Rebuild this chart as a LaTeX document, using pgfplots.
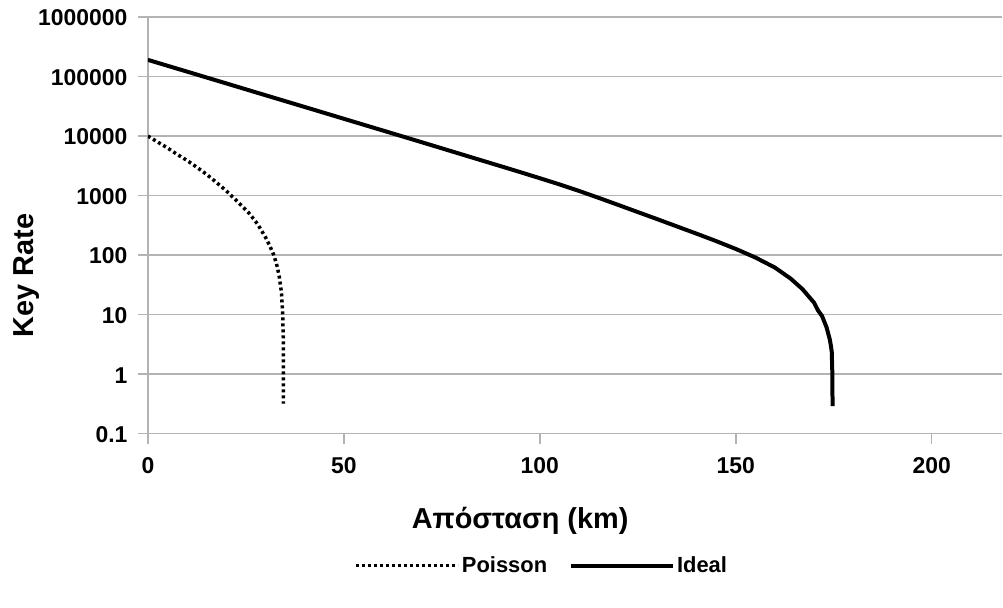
\documentclass[border=0pt]{standalone}
\usepackage{pgfplots}
\pgfplotsset{compat=1.18}
\usepackage{fontspec}
\setmainfont{Liberation Sans}
\definecolor{gridgray}{RGB}{179,179,179}
\begin{document}
\begin{tikzpicture}
\path (-148bp,-174bp) rectangle (855bp,434bp);
\begin{axis}[
  at={(0,0)}, anchor=south west,
  width=855bp, height=417bp, scale only axis,
  xmin=0, xmax=218,
  ymode=log, ymin=0.1, ymax=1000000,
  axis x line=bottom, axis y line=left,
  axis line style={-, gridgray, line width=1.5bp},
  tick align=outside, major tick length=10bp,
  tick style={gridgray, line width=1.5bp},
  yminorticks=false, xminorticks=false,
  ymajorgrids, grid style={gridgray, line width=1.5bp},
  xtick={0,50,100,150,200}, xticklabels={0,50,100,150,200},
  ytick={0.1,1,10,100,1000,10000,100000,1000000},
  yticklabels={0.1,1,10,100,1000,10000,100000,1000000},
  ticklabel style={font=\fontsize{23}{27}\selectfont\bfseries, text=black},
  yticklabel style={xshift=-7bp, yshift=-1bp},
  xticklabel style={yshift=-10bp},
  xlabel={Απόσταση (km)},
  ylabel={Key Rate},
  label style={font=\fontsize{29}{34}\selectfont\bfseries},
  xlabel style={at={(0.4357,-0.2086)}, anchor=center},
  ylabel style={at={(-0.1415,0.380)}, anchor=center, rotate=0},
  legend style={at={(0.461,-0.3165)}, anchor=center, draw=none, fill=none,
    legend columns=2, font=\fontsize{22}{26}\selectfont\bfseries,
    /tikz/every even column/.append style={column sep=20bp}},
  legend image code/.code={\draw[#1] (0bp,0bp) -- (102bp,0bp);},
]
\addplot[black, line width=3.5bp, dash pattern=on 3bp off 3bp] coordinates {
(0,10000) (2.5,7940) (5,6310) (7.5,4900) (10,3890) (12.5,2985) (15,2265)
(17.5,1660) (20,1202) (23,776) (26,490) (28,331) (30,200) (31,148) (32,105)
(32.8,72.4) (33.5,44.7) (34.1,22.9) (34.4,10) (34.55,3.98) (34.6,1.58) (34.6,0.32)
};
\addlegendentry{Poisson}
\addplot[black, line width=4bp] coordinates {
(0,190500) (10,120800) (20,76600) (30,48500) (40,30800) (50,19500) (60,12360)
(70,7830) (80,4940) (90,3120) (95,2477) (100,1959) (105,1542) (110,1197)
(115,916) (120,697) (125,528) (130,401) (135,303) (140,229) (145,172) (150,127)
(155,91.2) (160,61.7) (164,40.3) (167,26.9) (170,15.8) (171,11.7) (172,9.55)
(173.2,6.03) (173.6,4.8) (174,3.8) (174.3,2.95) (174.5,2.34) (174.65,1) (174.7,0.29)
};
\addlegendentry{Ideal}
\end{axis}
\end{tikzpicture}
\end{document}
